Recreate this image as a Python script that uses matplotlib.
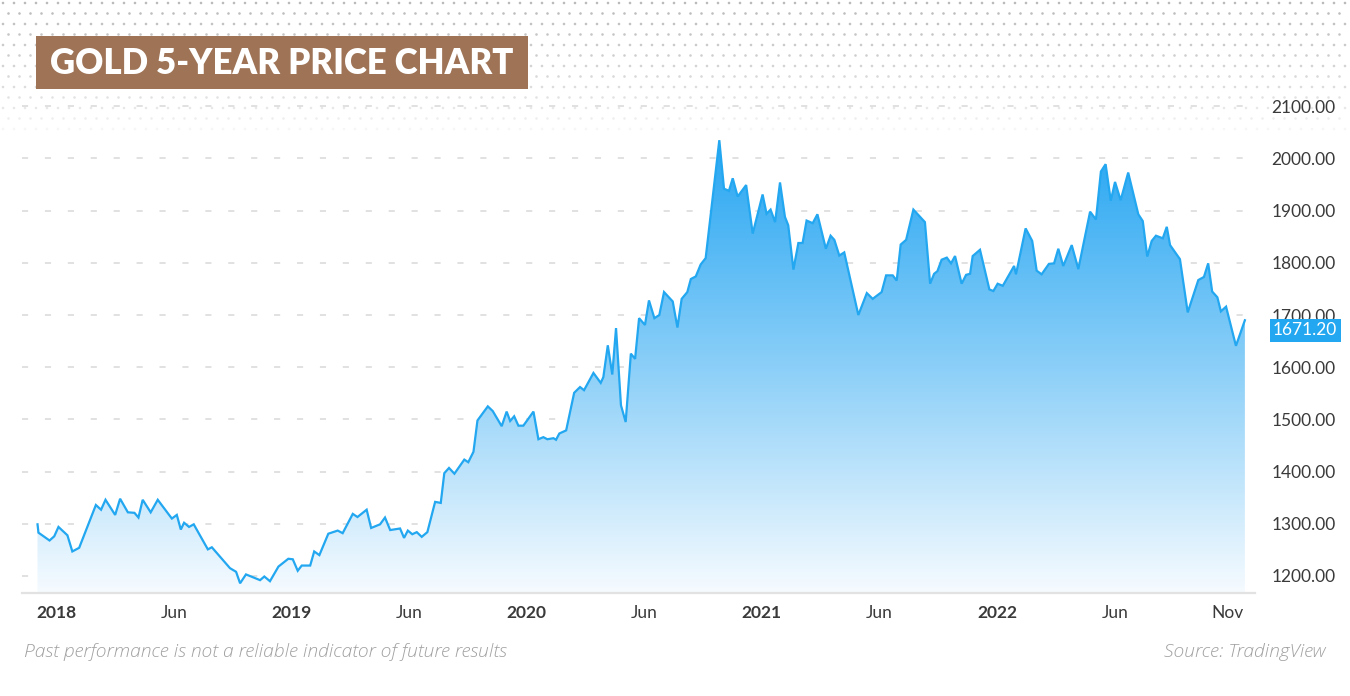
import numpy as np
import matplotlib
matplotlib.use('Agg')
import matplotlib.pyplot as plt
from matplotlib.patches import Rectangle
from matplotlib.colors import LinearSegmentedColormap

# weekly gold price (x as fractional year)
years = [2017.921, 2017.925, 2017.972, 2017.992, 2018.010, 2018.048, 2018.069, 2018.098,
         2018.169, 2018.191, 2018.210, 2018.251, 2018.272, 2018.305, 2018.333, 2018.350,
         2018.368, 2018.402, 2018.432, 2018.492, 2018.513, 2018.530, 2018.544, 2018.565,
         2018.585, 2018.645, 2018.662, 2018.739, 2018.765, 2018.782, 2018.807, 2018.867,
         2018.885, 2018.909, 2018.945, 2018.987, 2019.006, 2019.027, 2019.044, 2019.080,
         2019.097, 2019.119, 2019.157, 2019.197, 2019.218, 2019.261, 2019.281, 2019.320,
         2019.339, 2019.377, 2019.398, 2019.420, 2019.462, 2019.479, 2019.495, 2019.514,
         2019.533, 2019.554, 2019.578, 2019.611, 2019.635, 2019.650, 2019.670, 2019.693,
         2019.735, 2019.752, 2019.774, 2019.791, 2019.835, 2019.856, 2019.894, 2019.915,
         2019.930, 2019.947, 2019.965, 2019.986, 2020.029, 2020.050, 2020.071, 2020.088,
         2020.114, 2020.125, 2020.139, 2020.168, 2020.202, 2020.227, 2020.244, 2020.284,
         2020.315, 2020.326, 2020.345, 2020.364, 2020.380, 2020.401, 2020.421, 2020.443,
         2020.461, 2020.478, 2020.503, 2020.520, 2020.543, 2020.564, 2020.584, 2020.621,
         2020.641, 2020.659, 2020.683, 2020.698, 2020.719, 2020.740, 2020.761, 2020.819,
         2020.839, 2020.860, 2020.876, 2020.897, 2020.933, 2020.961, 2021.003, 2021.020,
         2021.037, 2021.056, 2021.077, 2021.098, 2021.112, 2021.134, 2021.155, 2021.173,
         2021.190, 2021.216, 2021.236, 2021.272, 2021.292, 2021.308, 2021.329, 2021.350,
         2021.410, 2021.446, 2021.471, 2021.509, 2021.528, 2021.556, 2021.573, 2021.590,
         2021.613, 2021.644, 2021.693, 2021.715, 2021.732, 2021.746, 2021.764, 2021.786,
         2021.804, 2021.821, 2021.849, 2021.868, 2021.885, 2021.896, 2021.927, 2021.967,
         2021.984, 2022.002, 2022.024, 2022.072, 2022.080, 2022.121, 2022.149, 2022.168,
         2022.189, 2022.220, 2022.242, 2022.260, 2022.281, 2022.317, 2022.345, 2022.395,
         2022.420, 2022.441, 2022.461, 2022.483, 2022.501, 2022.525, 2022.557, 2022.600,
         2022.619, 2022.638, 2022.657, 2022.675, 2022.704, 2022.721, 2022.735, 2022.777,
         2022.810, 2022.855, 2022.879, 2022.897, 2022.914, 2022.936, 2022.951, 2022.973,
         2023.015, 2023.053]
prices = [1299, 1283, 1268, 1276, 1294, 1278, 1247, 1254,
          1336, 1327, 1346, 1317, 1348, 1322, 1321, 1312,
          1346, 1322, 1346, 1310, 1317, 1289, 1302, 1294,
          1299, 1251, 1255, 1215, 1208, 1186, 1203, 1192,
          1199, 1190, 1218, 1233, 1232, 1210, 1220, 1220,
          1247, 1240, 1281, 1287, 1282, 1319, 1313, 1327,
          1292, 1299, 1312, 1288, 1291, 1273, 1287, 1280,
          1284, 1275, 1284, 1342, 1340, 1397, 1407, 1396,
          1423, 1418, 1438, 1498, 1525, 1516, 1487, 1515,
          1497, 1506, 1488, 1488, 1515, 1462, 1466, 1462,
          1464, 1461, 1473, 1479, 1551, 1562, 1556, 1589,
          1570, 1581, 1642, 1586, 1675, 1527, 1495, 1626,
          1616, 1694, 1681, 1728, 1694, 1700, 1744, 1726,
          1676, 1731, 1744, 1769, 1774, 1797, 1809, 2035,
          1942, 1938, 1962, 1927, 1949, 1856, 1931, 1894,
          1902, 1878, 1954, 1888, 1872, 1787, 1838, 1838,
          1881, 1876, 1893, 1827, 1852, 1844, 1814, 1820,
          1700, 1742, 1731, 1744, 1776, 1776, 1766, 1835,
          1844, 1902, 1878, 1760, 1779, 1784, 1806, 1810,
          1799, 1813, 1760, 1777, 1779, 1813, 1825, 1749,
          1746, 1760, 1756, 1794, 1778, 1866, 1842, 1785,
          1778, 1798, 1799, 1827, 1794, 1834, 1788, 1898,
          1883, 1975, 1989, 1919, 1955, 1920, 1973, 1893,
          1880, 1812, 1842, 1852, 1847, 1869, 1834, 1807,
          1705, 1767, 1773, 1799, 1745, 1734, 1707, 1716,
          1641, 1690]

tick_pos = [2018, 2018.5, 2019, 2019.5, 2020, 2020.5, 2021, 2021.5, 2022, 2022.5, 2022.98]
tick_labels = ['2018', 'Jun', '2019', 'Jun', '2020', 'Jun', '2021', 'Jun', '2022', 'Jun', 'Nov']
year_labels = ['2018', '2019', '2020', '2021', '2022']
y_ticks = [1200, 1300, 1400, 1500, 1600, 1700, 1800, 1900, 2000, 2100]
last_price = 1671.20

BLUE = '#22a7f0'
W, H = 1350, 696


def main():
    plt.rcParams['font.family'] = ['Lato', 'DejaVu Sans']
    fig = plt.figure(figsize=(W / 100, H / 100), dpi=100)

    # dotted header background
    bg = fig.add_axes([0, 0, 1, 1], zorder=0)
    bg.set_xlim(0, W)
    bg.set_ylim(H, 0)
    bg.axis('off')
    rows = np.arange(3, 135, 10.5)
    px, py = [], []
    for i, r in enumerate(rows):
        cols = np.arange(3 + (i % 2) * 5.5, W, 11)
        px.extend(cols)
        py.extend([r] * len(cols))
    px, py = np.array(px), np.array(py)
    a = np.clip(1 - py / 135, 0, 1) ** 0.7
    cols = np.zeros((len(px), 4))
    cols[:, :3] = 0.68
    cols[:, 3] = a * 0.85
    bg.scatter(px, py, s=3.5, c=cols, linewidths=0)

    bg.add_patch(Rectangle((36, 36), 492, 53, facecolor='#9e7356', edgecolor='none'))
    bg.text(282, 63.5, 'GOLD 5-YEAR PRICE CHART', color='white', fontsize=25,
            fontweight='heavy', ha='center', va='center')

    # main chart
    ax = fig.add_axes([22 / W, 1 - 593 / H, (1255 - 22) / W, (593 - 100) / H], zorder=1)
    ax.patch.set_alpha(0)
    y_lo, y_hi = 1167.4, 2112
    x_lo, x_hi = 2017.855, 2023.096

    poly = ax.fill_between(years, prices, y_lo, color='none', linewidth=0)
    cmap = LinearSegmentedColormap.from_list('g', ['#f6fbff', '#8bcff8', '#27a6f2'])
    grad = np.linspace(0, 1, 256)[:, None]
    im = ax.imshow(grad, extent=[x_lo, x_hi, y_lo, max(prices)], origin='lower',
                   aspect='auto', cmap=cmap, zorder=1, interpolation='bilinear')
    im.set_clip_path(poly.get_paths()[0], ax.transData)
    ax.plot(years, prices, color=BLUE, linewidth=1.6, zorder=3, solid_joinstyle='miter')

    ax.set_xlim(x_lo, x_hi)
    ax.set_ylim(y_lo, y_hi)

    ax.set_yticks(y_ticks)
    ax.set_yticklabels([f'{v:.2f}' for v in y_ticks])
    ax.yaxis.tick_right()
    ax.tick_params(axis='y', length=0, pad=12, labelsize=12.5, labelcolor='#3a3a3a')
    ax.yaxis.grid(True, linestyle=(0, (4, 11)), color='#d8d8d8', linewidth=1.1)
    ax.set_axisbelow(True)

    ax.set_xticks(tick_pos)
    ax.set_xticklabels(tick_labels)
    ax.tick_params(axis='x', length=0, pad=9, labelsize=12.5, labelcolor='#3a3a3a')
    for lab in ax.get_xticklabels():
        if lab.get_text() in year_labels:
            lab.set_fontweight('bold')

    for s in ['top', 'right', 'left']:
        ax.spines[s].set_visible(False)
    ax.spines['bottom'].set_color('#e2e2e2')
    ax.spines['bottom'].set_linewidth(1.6)

    ax.annotate(f'{last_price:.2f}', xy=(1.0, last_price), xycoords=('axes fraction', 'data'),
                xytext=(13, 0), textcoords='offset points', color='white', fontsize=12.5,
                va='center', ha='left',
                bbox=dict(boxstyle='square,pad=0.2', fc=BLUE, ec='none'))

    foot = dict(style='italic', color='#a0a0a0', fontsize=13.9, va='center',
                family=['Open Sans', 'DejaVu Sans'], fontweight='light')
    fig.text(24 / W, 1 - 652 / H, 'Past performance is not a reliable indicator of future results',
             ha='left', **foot)
    fig.text(1326 / W, 1 - 652 / H, 'Source: TradingView', ha='right', **foot)

    fig.savefig('out.png', dpi=100, facecolor='white')


if __name__ == '__main__':
    main()
